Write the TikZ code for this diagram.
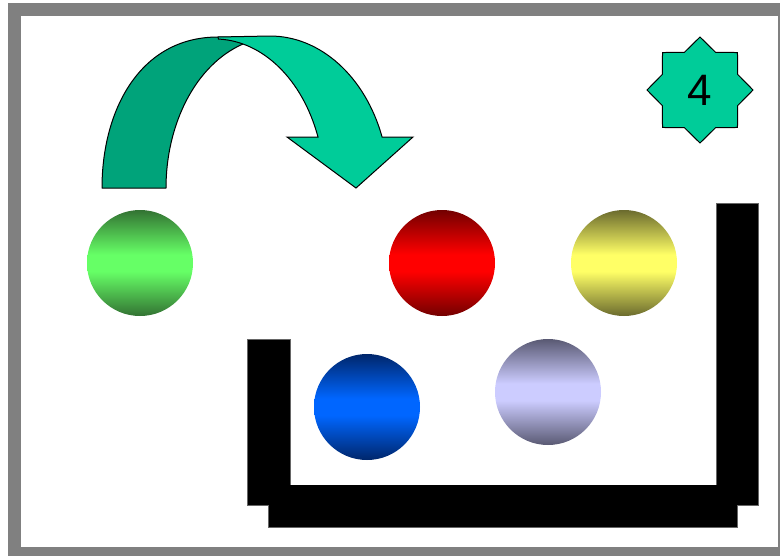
\documentclass[tikz,border=0pt]{standalone}
\usepackage{fontspec}
\setmainfont{Liberation Sans}
\usetikzlibrary{shapes.geometric}
\definecolor{arrowback}{RGB}{0,163,122}
\definecolor{arrowfront}{RGB}{0,204,153}
\definecolor{framegray}{RGB}{128,128,128}
% dark rim, bright band across the middle
\newcommand{\ballshading}[3]{%
  \pgfdeclareverticalshading{#1}{100bp}{rgb(0bp)=(#2); rgb(25bp)=(#2);
    rgb(46bp)=(#3); rgb(54bp)=(#3); rgb(75bp)=(#2); rgb(100bp)=(#2)}}
\ballshading{ballgreen}{0.2,0.45,0.2}{0.4,1,0.4}
\ballshading{ballred}{0.45,0,0}{1,0,0}
\ballshading{ballyellow}{0.42,0.42,0.18}{1,1,0.4}
\ballshading{ballblue}{0,0.15,0.42}{0,0.4,1}
\ballshading{balllavender}{0.35,0.35,0.45}{0.8,0.8,1}

\begin{document}
\begin{tikzpicture}[
  x=1pt,y=-1pt,
  ball/.style={circle,minimum size=106pt,inner sep=0pt,shading=#1},
  wall/.style={fill=black,draw=black!60,line width=0.4pt},
  back/.style={fill=arrowback,draw=black,line width=1pt,line join=round},
  front/.style={fill=arrowfront,draw=black,line width=1pt,line join=miter}]
  \useasboundingbox (0,0) rectangle (780,555);
  % frame
  \draw[framegray,line width=13pt] (14.5,9.5) rectangle (784.5,553.5);
  % curved arrow
  \draw[back] (102,188) .. controls (102,110) and (140,37) .. (218,37) -- (255,37)
    -- (243,44) .. controls (195,65) and (166,125) .. (166,188) -- cycle;
  \draw[front] (218,37) -- (270,36) arc[start angle=-90,end angle=-19.6,x radius=119,y radius=152]
    -- (413,137) -- (356,188) -- (287,137) -- (318,137)
    arc[start angle=-20,end angle=-88,x radius=110,y radius=149] -- cycle;
  % badge
  \node[star,star points=8,star point ratio=1.3,minimum size=106pt,inner sep=0pt,
    fill=arrowfront,draw=black,line width=1pt,font=\fontsize{44}{48}\selectfont] (badge) at (700,90) {4};
  % balls
  \node[ball=ballgreen] (green) at (140,263) {};
  \node[ball=ballred] (red) at (442,263) {};
  \node[ball=ballyellow] (yellow) at (624,263) {};
  \node[ball=ballblue] (blue) at (367,407) {};
  \node[ball=balllavender] (lavender) at (548,392) {};
  % bin
  \draw[wall] (247,339) rectangle (290,505);
  \draw[wall] (716,203) rectangle (758,505);
  \draw[wall] (268,485) rectangle (737,527);
  \fill[black] (248,484.5) rectangle (757.5,504.5);
\end{tikzpicture}
\end{document}
